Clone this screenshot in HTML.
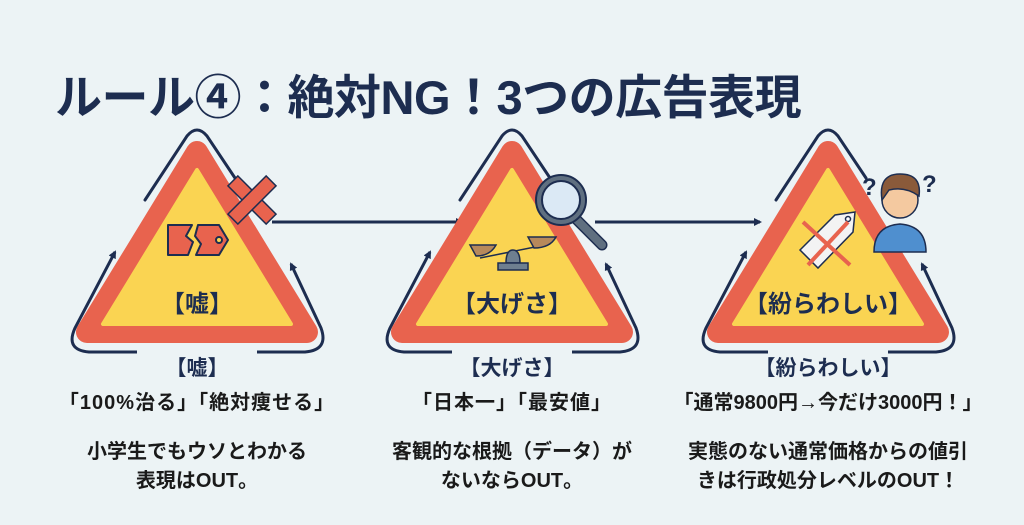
<!DOCTYPE html>
<html><head><meta charset="utf-8"><style>
html,body{margin:0;padding:0;background:#ecf3f5;}
body{width:1024px;height:525px;overflow:hidden;position:relative;font-family:"Liberation Sans","Noto Sans CJK JP",sans-serif;}
.t{position:absolute;left:0;width:100%;text-align:center;font-weight:bold;white-space:nowrap;}
</style></head><body>
<svg width="1024" height="525" style="position:absolute;left:0;top:0">
<defs>
<marker id="ah" markerWidth="8" markerHeight="8" refX="6" refY="4" orient="auto" markerUnits="userSpaceOnUse" viewBox="0 0 8 8"><path d="M0,0 L8,4 L0,8 z" fill="#1d2d50"/></marker>
<g id="tri">
 <path d="M-52,60 L-10,-4 Q0,-16 10,-4 L38,38" fill="none" stroke="#1d2d50" stroke-width="3" stroke-linecap="round"/>
 <path d="M-60,212 L-108,212 Q-132,210 -122,188 L-82,112" fill="none" stroke="#1d2d50" stroke-width="3" marker-end="url(#ah)"/>
 <path d="M60,212 L108,212 Q132,210 124,188 L94,124" fill="none" stroke="#1d2d50" stroke-width="3" marker-end="url(#ah)"/>
 <polygon points="0,12 -110,192 110,192" fill="#e8634e" stroke="#e8634e" stroke-width="22" stroke-linejoin="round"/>
 <polygon points="0,30 -94,184 94,184" fill="#fad452" stroke="#fad452" stroke-width="4" stroke-linejoin="round"/>
</g>
</defs>
<line x1="272" y1="222" x2="462" y2="222" stroke="#1d2d50" stroke-width="3" marker-end="url(#ah)"/>
<line x1="595" y1="222" x2="760" y2="222" stroke="#1d2d50" stroke-width="3" marker-end="url(#ah)"/>
<use href="#tri" x="197" y="140"/>
<use href="#tri" x="512" y="140"/>
<use href="#tri" x="828" y="140"/>
<g stroke="#1d2d50" stroke-width="2" fill="#e8634e" stroke-linejoin="round">
<path d="M168,225 L192,225 L186,236 L193,242 L188,255 L168,255 Z"/>
<path d="M198,225 L219,225 L228,240 L219,255 L196,255 L201,244 L195,236 Z"/>
<circle cx="219" cy="240" r="3" fill="#fad452"/>
</g>
<g transform="translate(252,200) rotate(45)"><rect x="-27" y="-7" width="54" height="14" fill="#e8634e" stroke="#1d2d50" stroke-width="1.5"/><rect x="-7" y="-27" width="14" height="54" fill="#e8634e" stroke="#1d2d50" stroke-width="1.5"/><rect x="-6" y="-6" width="12" height="12" fill="#e8634e"/></g>
<g stroke="#1d2d50" stroke-width="1.5">
<line x1="480" y1="258" x2="550" y2="244"/>
<path d="M470,245 L496,245 Q490,256 476,256 Z" fill="#b7895b"/>
<path d="M528,237 L556,237 Q550,248 534,248 Z" fill="#b7895b"/>
<path d="M506,263 Q506,250 513,250 Q520,250 520,263 Z" fill="#6e7f90"/>
<rect x="498" y="263" width="30" height="7" fill="#6e7f90"/>
</g>
<g stroke="#1d2d50" stroke-width="2">
<line x1="575" y1="218" x2="602" y2="245" stroke-width="11" stroke-linecap="round"/>
<line x1="575" y1="218" x2="602" y2="245" stroke="#5f6f80" stroke-width="8" stroke-linecap="round"/>
<circle cx="561" cy="200" r="25" fill="#5f6f80"/>
<circle cx="561" cy="200" r="19" fill="#dbe9f5"/>
</g>
<g stroke="#1d2d50" stroke-width="1.5">
<path d="M800,250 L835,215 L855,212 L853,232 L818,268 Z" fill="#f3f3f3"/>
<circle cx="848" cy="219" r="2.5" fill="#fff"/>
<line x1="803" y1="222" x2="850" y2="265" stroke="#e8634e" stroke-width="4"/>
<line x1="848" y1="222" x2="808" y2="265" stroke="#e8634e" stroke-width="4"/>
</g>
<g stroke="#1d2d50" stroke-width="1.5">
<path d="M874,252 Q874,226 900,224 Q926,226 926,252 Z" fill="#4f8fcf"/>
<circle cx="900" cy="200" r="18" fill="#f4c9a0"/>
<path d="M882,200 Q878,174 900,174 Q922,174 919,196 Q905,186 889,190 Z" fill="#8a5a3a"/>
</g>
<text x="862" y="195" font-size="24" font-weight="bold" fill="#1d2d50" font-family="Liberation Sans">?</text>
<text x="922" y="192" font-size="24" font-weight="bold" fill="#1d2d50" font-family="Liberation Sans">?</text>
</svg>
<div class="t" style="left:55px;width:auto;top:59px;font-size:47px;color:#1d2d50;text-align:left;letter-spacing:-0.5px">ルール④：絶対NG！3つの広告表現</div>

<div class="t" style="left:97px;width:200px;top:284px;font-size:24px;color:#1d2d50">【嘘】</div>
<div class="t" style="left:412px;width:200px;top:284px;font-size:24px;color:#1d2d50">【大げさ】</div>
<div class="t" style="left:718px;width:220px;top:284px;font-size:24px;color:#1d2d50">【紛らわしい】</div>

<div class="t" style="left:47px;width:300px;top:352px;font-size:21px;color:#1d2d50">【嘘】</div>
<div class="t" style="left:362px;width:300px;top:352px;font-size:21px;color:#1d2d50">【大げさ】</div>
<div class="t" style="left:678px;width:300px;top:352px;font-size:21px;color:#1d2d50">【紛らわしい】</div>

<div class="t" style="left:17px;width:360px;top:386px;font-size:20px;color:#1a1a1a;letter-spacing:1px">「100%治る」「絶対痩せる」</div>
<div class="t" style="left:332px;width:360px;top:386px;font-size:20px;color:#1a1a1a;letter-spacing:1px">「日本一」「最安値」</div>
<div class="t" style="left:628px;width:400px;top:386px;font-size:20px;color:#1a1a1a">「通常9800円→今だけ3000円！」</div>

<div class="t" style="left:17px;width:360px;top:438px;font-size:20px;line-height:29px;color:#1a1a1a">小学生でもウソとわかる<br>表現はOUT。</div>
<div class="t" style="left:332px;width:360px;top:438px;font-size:20px;line-height:29px;color:#1a1a1a">客観的な根拠（データ）が<br>ないならOUT。</div>
<div class="t" style="left:628px;width:400px;top:438px;font-size:20px;line-height:29px;color:#1a1a1a">実態のない通常価格からの値引<br>きは行政処分レベルのOUT！</div>
</body></html>
